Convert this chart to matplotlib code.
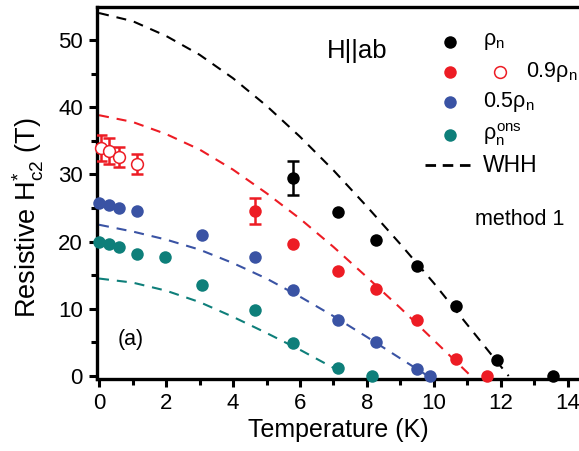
import matplotlib
matplotlib.use("Agg")
import matplotlib.pyplot as plt
from matplotlib.ticker import MultipleLocator

plt.rcParams['font.family'] = ['Liberation Sans', 'DejaVu Sans']
plt.rcParams['mathtext.fontset'] = 'custom'
plt.rcParams['mathtext.rm'] = 'Liberation Sans'
plt.rcParams['mathtext.it'] = 'Liberation Sans'
plt.rcParams['mathtext.bf'] = 'Liberation Sans:bold'

# ---- data ----
T_rho = [5.78, 7.12, 8.27, 9.48, 10.65, 11.87, 13.56]
H_rho = [29.5, 24.4, 20.2, 16.4, 10.4, 2.4, 0.0]
E_rho = [2.5, 0, 0, 0, 0, 0, 0]

T_09 = [4.65, 5.78, 7.12, 8.27, 9.48, 10.65, 11.57]
H_09 = [24.55, 19.6, 15.6, 12.9, 8.3, 2.5, 0.0]
E_09 = [2.0, 0, 0, 0, 0, 0, 0]

T_09o = [0.05, 0.31, 0.61, 1.13]
H_09o = [33.9, 33.5, 32.6, 31.5]
E_09o = [1.9, 1.9, 1.5, 1.5]

T_05 = [0.01, 0.31, 0.61, 1.13, 3.07, 4.65, 5.78, 7.12, 8.27, 9.48, 9.88]
H_05 = [25.8, 25.45, 25.05, 24.55, 21.0, 17.75, 12.8, 8.3, 5.0, 1.1, 0.05]

T_ons = [0.01, 0.31, 0.61, 1.13, 1.98, 3.07, 4.65, 5.78, 7.12, 8.14]
H_ons = [19.9, 19.6, 19.25, 18.15, 17.75, 13.6, 9.8, 4.9, 1.25, 0.0]

# WHH curves
T_whh_k = [0, 1, 2, 3, 4, 5, 6, 7, 8, 9, 10, 11, 12, 12.23]
H_whh_k = [54.0, 52.8, 50.6, 47.8, 44.3, 40.2, 35.6, 30.6, 25.2, 19.6, 13.8, 7.6, 1.4, 0.0]

T_whh_r = [0, 1, 2, 3, 4, 5, 6, 7, 8, 9, 10, 11, 11.1]
H_whh_r = [38.8, 37.8, 36.0, 33.7, 30.7, 27.2, 23.4, 19.2, 14.7, 10.1, 5.3, 0.5, 0.0]

T_whh_b = [0, 1, 2, 3, 4, 5, 6, 7, 8, 9, 9.82]
H_whh_b = [22.5, 21.5, 20.3, 18.8, 16.8, 14.5, 11.8, 8.9, 5.8, 2.6, 0.0]

T_whh_t = [0, 1, 2, 3, 4, 5, 6, 7, 7.4]
H_whh_t = [14.5, 13.9, 12.7, 11.0, 8.8, 6.4, 3.9, 1.2, 0.0]

C_K = '#000000'
C_R = '#ED1C24'
C_B = '#3A53A4'
C_T = '#0E7F7A'

fig = plt.figure(figsize=(5.79, 4.51), dpi=100)
ax = fig.add_axes([0.167, 0.1596, 0.833, 0.8249])

dash = (0, (4.8, 3.8))
lw = 1.5
ax.plot(T_whh_k, H_whh_k, color=C_K, lw=lw, ls=dash, zorder=2)
ax.plot(T_whh_r, H_whh_r, color=C_R, lw=lw, ls=dash, zorder=2)
ax.plot(T_whh_b, H_whh_b, color=C_B, lw=lw, ls=dash, zorder=2)
ax.plot(T_whh_t, H_whh_t, color=C_T, lw=lw, ls=dash, zorder=2)

ms = 9
def errplot(T, H, E, color):
    Tt = [t for t, e in zip(T, E) if e > 0]
    Ht = [h for h, e in zip(H, E) if e > 0]
    Et = [e for e in E if e > 0]
    ax.errorbar(Tt, Ht, yerr=Et, fmt='none', ecolor=color, elinewidth=1.8,
                capsize=4.2, capthick=1.8, zorder=3, clip_on=False)

errplot(T_rho, H_rho, E_rho, C_K)
errplot(T_09, H_09, E_09, C_R)
ax.errorbar(T_09o, H_09o, yerr=E_09o, fmt='none', ecolor=C_R, elinewidth=1.8,
            capsize=4.2, capthick=1.8, zorder=3)

ax.plot(T_rho, H_rho, 'o', color=C_K, ms=ms, mec='none', zorder=4, clip_on=False)
ax.plot(T_09, H_09, 'o', color=C_R, ms=ms, mec='none', zorder=4, clip_on=False)
ax.plot(T_09o, H_09o, 'o', mfc='white', mec=C_R, mew=1.1, ms=ms - 0.5, zorder=4, clip_on=False)
ax.plot(T_05, H_05, 'o', color=C_B, ms=ms, mec='none', zorder=4, clip_on=False)
ax.plot(T_ons, H_ons, 'o', color=C_T, ms=ms, mec='none', zorder=4, clip_on=False)

ax.set_xlim(-0.07, 14.33)
ax.set_ylim(-0.45, 54.9)
ax.xaxis.set_major_locator(MultipleLocator(2))
ax.xaxis.set_minor_locator(MultipleLocator(1))
ax.yaxis.set_major_locator(MultipleLocator(10))
ax.yaxis.set_minor_locator(MultipleLocator(5))
ax.tick_params(which='major', direction='out', length=6, width=2.2, labelsize=16, pad=4)
ax.tick_params(which='minor', direction='out', length=4, width=2.2)
ax.tick_params(top=False, right=False, which='both')
for s in ['left', 'bottom', 'top']:
    ax.spines[s].set_linewidth(2.4)
ax.spines['right'].set_visible(False)

ax.set_xlabel('Temperature (K)', fontsize=18, labelpad=3)
ax.set_ylabel(r'Resistive H$^{*}_{c2}$ (T)', fontsize=19.5)
ax.yaxis.set_label_coords(-0.105, 0.435)

# annotations
ax.text(0.540, 0.882, 'H||ab', transform=ax.transAxes, fontsize=18.5, ha='center', va='center')
ax.text(0.784, 0.430, 'method 1', transform=ax.transAxes, fontsize=15.5, ha='left', va='center')
ax.text(0.0711, 0.1075, '(a)', transform=ax.transAxes, fontsize=15.5, ha='center', va='center')

# manual legend
tr = ax.transAxes
lx = 0.7325
ax.plot([lx], [0.9067], 'o', color=C_K, ms=ms, mec='none', transform=tr, clip_on=False)
ax.plot([lx], [0.826], 'o', color=C_R, ms=ms, mec='none', transform=tr, clip_on=False)
ax.plot([0.836], [0.826], 'o', mfc='white', mec=C_R, mew=1.1, ms=ms - 0.5, transform=tr, clip_on=False)
ax.plot([lx], [0.7454], 'o', color=C_B, ms=ms, mec='none', transform=tr, clip_on=False)
ax.plot([lx], [0.656], 'o', color=C_T, ms=ms, mec='none', transform=tr, clip_on=False)
ax.plot([0.681, 0.774], [0.575, 0.575], color=C_K, lw=2.0, ls=(0, (3.8, 2.4)), transform=tr, clip_on=False)
tx = 0.801
ax.text(tx, 0.9067, r'$\rho_n$', transform=tr, fontsize=15.5, ha='left', va='center')
ax.text(0.891, 0.826, r'0.9$\rho_n$', transform=tr, fontsize=15.5, ha='left', va='center')
ax.text(tx, 0.7454, r'0.5$\rho_n$', transform=tr, fontsize=15.5, ha='left', va='center')
ax.text(tx, 0.656, r'$\rho_n^{ons}$', transform=tr, fontsize=15.5, ha='left', va='center')
ax.text(tx, 0.575, 'WHH', transform=tr, fontsize=16.5, ha='left', va='center')

fig.savefig('out.png', dpi=100)
